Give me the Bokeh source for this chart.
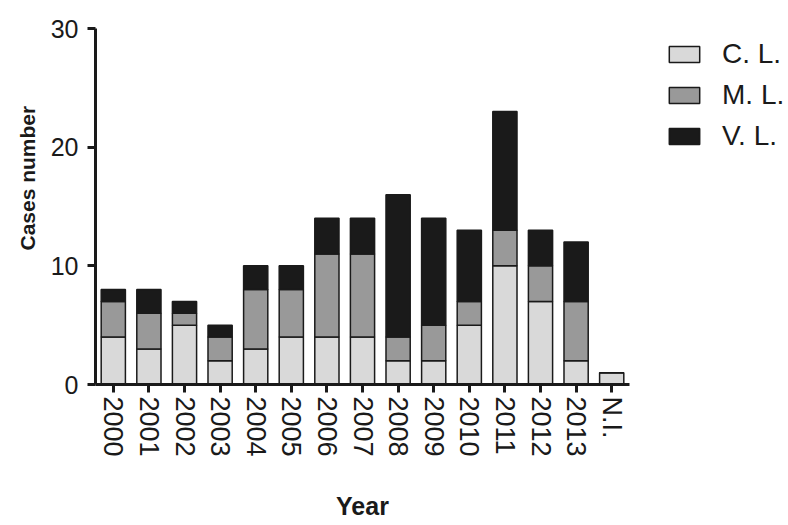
from bokeh.plotting import figure
from bokeh.models import FactorRange, Range1d, Legend, LegendItem, ColumnDataSource, FixedTicker, Title
from bokeh.embed import file_html
from bokeh.resources import INLINE

years = ["2000", "2001", "2002", "2003", "2004", "2005", "2006", "2007",
         "2008", "2009", "2010", "2011", "2012", "2013", "N.I."]
cl = [4, 3, 5, 2, 3, 4, 4, 4, 2, 2, 5, 10, 7, 2, 1]
ml = [3, 3, 1, 2, 5, 4, 7, 7, 2, 3, 2, 3, 3, 5, 0]
vl = [1, 2, 1, 1, 2, 2, 3, 3, 12, 9, 6, 10, 3, 5, 0]
series = ["C. L.", "M. L.", "V. L."]
colors = ["#d9d9d9", "#999999", "#1a1a1a"]
y_ticks = [0, 10, 20, 30]

src = ColumnDataSource(dict(year=years, cl=cl, ml=ml, vl=vl))

FONT = "Liberation Sans"

p = figure(frame_width=534, frame_height=356, output_backend="svg", toolbar_location=None,
           x_range=FactorRange(*years, range_padding=0), y_range=Range1d(0, 30),
           min_border_left=95, min_border_right=157, min_border_top=28,
           min_border_bottom=139)
p.outline_line_color = None
p.xgrid.visible = False
p.ygrid.visible = False
p.background_fill_color = "white"

rs = p.vbar_stack(["cl", "ml", "vl"], x="year", width=0.68, source=src,
                  fill_color=colors, line_color="#1a1a1a", line_width=1.5)

for ax in (p.xaxis, p.yaxis):
    ax.axis_line_width = 3
    ax.axis_line_color = "#1a1a1a"
    ax.major_tick_line_width = 3
    ax.major_tick_line_color = "#1a1a1a"
    ax.major_tick_in = 0
    ax.major_tick_out = 8
    ax.minor_tick_line_color = None
    ax.major_label_text_font = FONT
    ax.major_label_text_color = "#1a1a1a"
    ax.axis_label_text_font = FONT
    ax.axis_label_text_font_style = "bold"
    ax.axis_label_text_color = "#1a1a1a"

p.yaxis.ticker = FixedTicker(ticks=y_ticks)
p.yaxis.major_label_text_font_size = "25px"
p.yaxis.major_label_standoff = 9

ytitle = Title(text="Cases number", align="left", offset=134, standoff=17,
               text_font=FONT, text_font_size="21px", text_font_style="bold",
               text_color="#1a1a1a")
p.add_layout(ytitle, "left")

p.xaxis.major_label_orientation = "vertical"
p.xaxis.major_label_text_font_size = "27px"
p.xaxis.major_label_standoff = 4
p.xaxis.axis_label = "Year"
p.xaxis.axis_label_text_font_size = "25px"
p.xaxis.axis_label_standoff = 32

items = [LegendItem(label=s, renderers=[r]) for s, r in zip(series, rs)]
legend = Legend(items=items, location=(36, 232), orientation="vertical",
                glyph_width=38, glyph_height=20, label_standoff=19, spacing=9,
                padding=0, margin=0, border_line_color=None,
                background_fill_color=None, label_text_font=FONT,
                label_text_font_size="28px", label_text_color="#1a1a1a")
p.add_layout(legend, "right")

open("out.html", "w").write(file_html(p, INLINE))
